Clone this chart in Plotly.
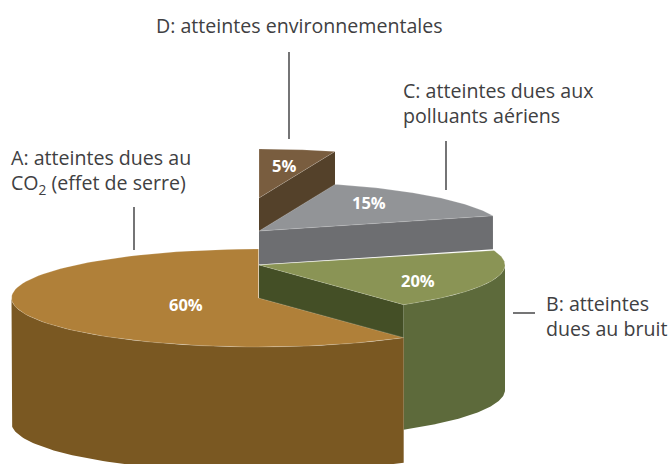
import numpy as np
import plotly.graph_objects as go

# --- data -------------------------------------------------------------
categories = ["D", "C", "B", "A"]          # clockwise from 12 o'clock
shares = [5, 15, 20, 60]
top_colors = ["#795D3F", "#929497", "#8A9455", "#B08039"]
wall_colors = ["#54412A", "#6D6E71", "#5D6A3B", "#7A5822"]
radial_colors = ["#54412A", "#6D6E71", "#444F26", None]

callouts = [
    "D: atteintes environnementales",
    "C: atteintes dues aux<br>polluants aériens",
    "B: atteintes<br>dues au bruit",
    "A: atteintes dues au<br>CO<sub>2</sub> (effet de serre)",
]

# --- layout of the drawing (pixels) -----------------------------------
W, H = 669, 464
CX = [259, 259, 259, 258.5]
CY = [198, 231, 265, 298]
RX = [246, 246, 246, 247]
RY = 49
STEP = 33.5
DEPTH = 125
LABEL_FX = [0.65, 0.63, 0.68, 0.31]
LABEL_FY = [0.68, 0.81, 1.0, 0.46]
TEXT = "#404042"
FONT = "Open Sans"

# --- angles derived from the data -------------------------------------
edges = np.concatenate([[0], np.cumsum(shares)]) / np.sum(shares) * 2 * np.pi


def arc(i, a0, a1, dy=0.0, n=90):
    t = np.linspace(a0, a1, n)
    return CX[i] + RX[i] * np.sin(t), CY[i] - RY * np.cos(t) + dy


def poly(xs, ys, color, name, edge=None):
    return go.Scatter(x=xs, y=ys, mode="lines", fill="toself", fillcolor=color,
                      line=dict(width=0.6 if edge else 0, color=edge or color), name=name,
                      hoverinfo="skip", showlegend=False)


fig = go.Figure()
for i, cat in enumerate(categories):
    a0, a1 = edges[i], edges[i + 1]
    ax, ay = arc(i, a0, a1)
    top = poly(np.r_[CX[i], ax, CX[i]], np.r_[CY[i], ay, CY[i]], top_colors[i], cat + " top",
               edge="rgba(255,255,255,0.3)")
    lo, hi = max(a0, np.pi / 2), min(a1, 3 * np.pi / 2)
    wall = None
    if hi > lo:
        ux, uy = arc(i, lo, hi)
        dx, dy = arc(i, lo, hi, DEPTH)
        wall = poly(np.r_[ux, dx[::-1]], np.r_[uy, dy[::-1]], wall_colors[i], cat + " wall")
    radial = None
    if radial_colors[i]:
        ex, ey = arc(i, a1, a1, n=1)
        radial = poly(np.r_[CX[i], ex, ex, CX[i]], np.r_[CY[i], ey, ey + STEP, CY[i] + STEP],
                      radial_colors[i], cat + " cut")
    for tr in (radial, wall, top):
        if tr is not None:
            fig.add_trace(tr)

# --- percentage labels ------------------------------------------------
for i, v in enumerate(shares):
    m = (edges[i] + edges[i + 1]) / 2
    fig.add_annotation(x=CX[i] + RX[i] * np.sin(m) * LABEL_FX[i],
                       y=CY[i] - RY * np.cos(m) * LABEL_FY[i],
                       text=f"<b>{v}%</b>", showarrow=False,
                       font=dict(family=FONT, size=16.5, color="white"))

# --- callouts ---------------------------------------------------------
callout_pos = [(154, 25), (400.5, 103), (544, 315.5), (9, 171.5)]
for text, (x, y) in zip(callouts, callout_pos):
    fig.add_annotation(x=x, y=y, text=text, showarrow=False, xanchor="left", yanchor="middle",
                       align="left", font=dict(family=FONT, size=19.6, color=TEXT))

leaders = [(289, 52, 289, 139), (446, 141, 446, 190), (513, 313, 535, 313), (134, 207, 134, 250)]
for x0, y0, x1, y1 in leaders:
    fig.add_shape(type="line", x0=x0, y0=y0, x1=x1, y1=y1,
                  line=dict(color="#3A3A3C", width=1.4))

fig.update_layout(width=W, height=H, margin=dict(l=0, r=0, t=0, b=0),
                  paper_bgcolor="white", plot_bgcolor="white", showlegend=False,
                  xaxis=dict(range=[0, W], visible=False, fixedrange=True),
                  yaxis=dict(range=[H, 0], visible=False, fixedrange=True))

fig.write_html("out.html", config=dict(displayModeBar=False),
               post_script="document.body.style.margin='0';document.body.style.overflow='hidden';")
